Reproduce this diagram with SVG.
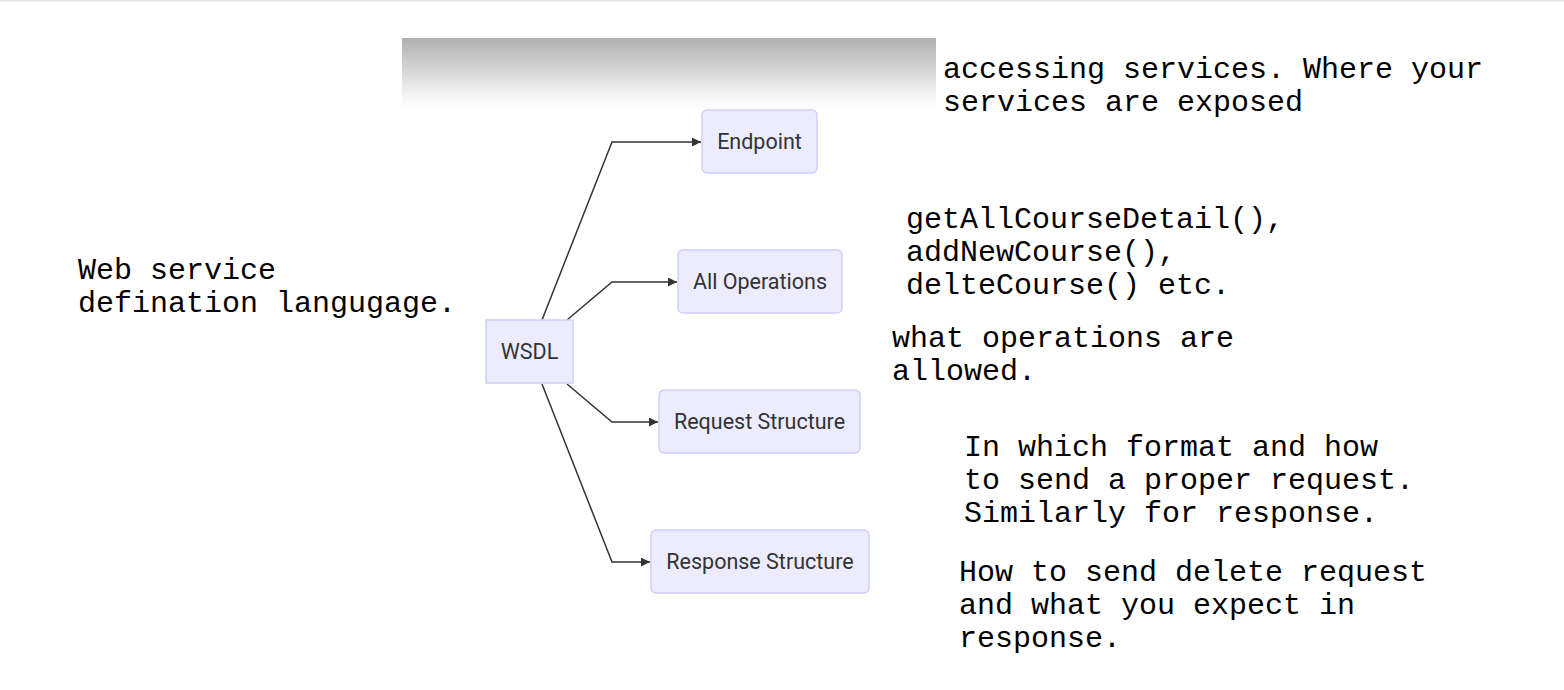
<svg xmlns="http://www.w3.org/2000/svg" width="1564" height="690" viewBox="0 0 1564 690">
<style>
.node rect{fill:#ececfe;stroke:#cfcff7;stroke-width:1.5}
.node text{font-family:Roboto,"Liberation Sans",sans-serif;font-size:21.5px;fill:#333;text-anchor:middle}
.edge{fill:none;stroke:#333;stroke-width:1.5}
.note{font-family:"Liberation Mono","Courier New",monospace;font-size:30px;fill:#000}
</style>
<defs>
<linearGradient id="fade" x1="0" y1="0" x2="0" y2="1">
<stop offset="0" stop-color="#b0b0b0"/>
<stop offset="0.85" stop-color="#fafafa"/>
<stop offset="1" stop-color="#ffffff"/>
</linearGradient>
<marker id="arr" viewBox="0 0 10 10" refX="10" refY="5" markerWidth="9" markerHeight="9" markerUnits="userSpaceOnUse" orient="auto">
<path d="M0,0 L10,5 L0,10 z" fill="#333"/>
</marker>
</defs>
<rect x="0" y="0" width="1564" height="690" fill="#fff"/>
<rect x="0" y="0" width="1564" height="1.5" fill="#e4e4e4"/>
<rect x="402" y="38" width="534" height="74" fill="url(#fade)"/>
<g id="connectors">
<polyline class="edge" points="542,320 612,142 701,142" marker-end="url(#arr)"/>
<polyline class="edge" points="567,320 612,282 677,282" marker-end="url(#arr)"/>
<polyline class="edge" points="567,384 612,422 658,422" marker-end="url(#arr)"/>
<polyline class="edge" points="542,384 612,562 650,562" marker-end="url(#arr)"/>
</g>
<g id="node-endpoint" class="node"><rect x="702" y="110" width="115" height="63" rx="5"/><text x="759.5" y="149">Endpoint</text></g>
<g id="node-allops" class="node"><rect x="678" y="250" width="164" height="63" rx="5"/><text x="760" y="289">All Operations</text></g>
<g id="node-wsdl" class="node"><rect x="486" y="320" width="87" height="63"/><text x="529.5" y="359">WSDL</text></g>
<g id="node-request" class="node"><rect x="659" y="390" width="201" height="63" rx="5"/><text x="759.5" y="429">Request Structure</text></g>
<g id="node-response" class="node"><rect x="651" y="530" width="218" height="63" rx="5"/><text x="760" y="569">Response Structure</text></g>
<g id="notes">
<text class="note" x="78" y="279">Web service</text>
<text class="note" x="78" y="312">defination langugage.</text>
<text class="note" x="943" y="78">accessing services. Where your</text>
<text class="note" x="943" y="111">services are exposed</text>
<text class="note" x="906" y="228">getAllCourseDetail(),</text>
<text class="note" x="906" y="261">addNewCourse(),</text>
<text class="note" x="906" y="294">delteCourse() etc.</text>
<text class="note" x="892" y="347">what operations are</text>
<text class="note" x="892" y="380">allowed.</text>
<text class="note" x="964" y="456">In which format and how</text>
<text class="note" x="964" y="489">to send a proper request.</text>
<text class="note" x="964" y="522">Similarly for response.</text>
<text class="note" x="959" y="581">How to send delete request</text>
<text class="note" x="959" y="614">and what you expect in</text>
<text class="note" x="959" y="647">response.</text>
</g>
</svg>
